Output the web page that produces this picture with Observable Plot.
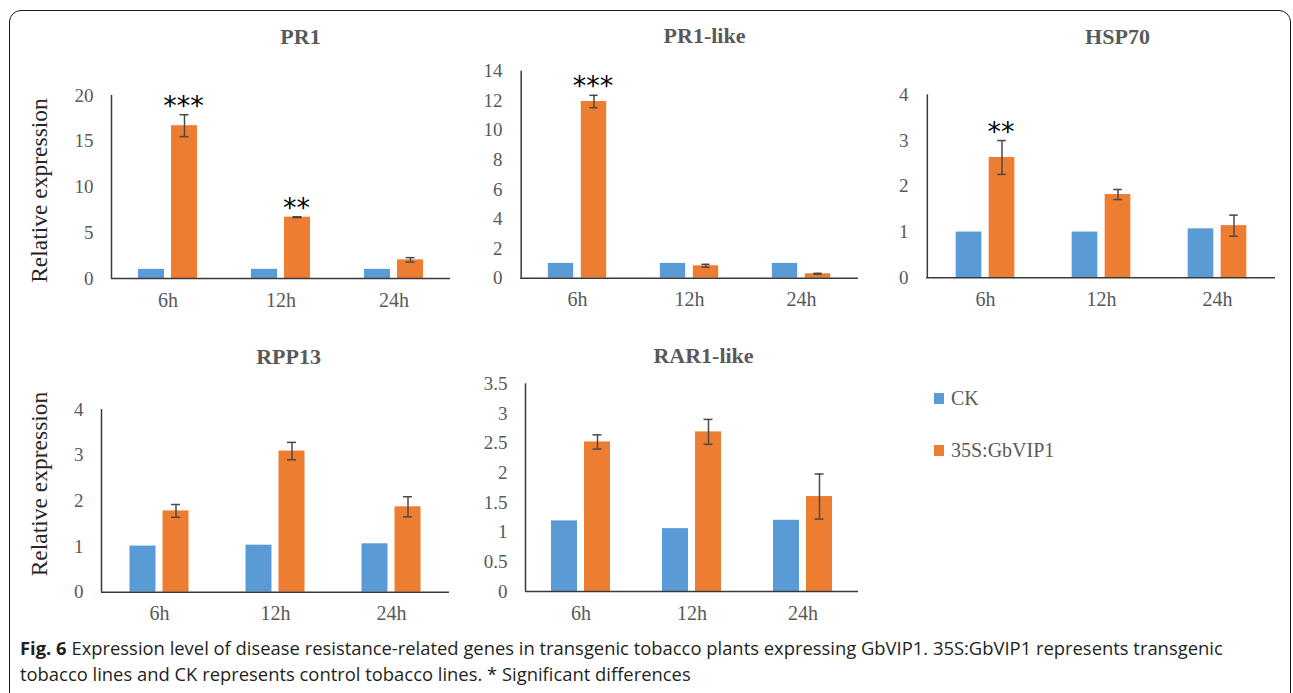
<!DOCTYPE html>
<html><head><meta charset="utf-8">
<script src="https://cdn.jsdelivr.net/npm/d3@7"></script>
<script src="https://cdn.jsdelivr.net/npm/@observablehq/plot@0.6"></script>
<style>
html,body{margin:0;padding:0;background:#fff;}
#page{position:relative;width:1293px;height:693px;overflow:hidden;background:#fff;}
#box{position:absolute;left:9px;top:10px;width:1282px;height:700px;border:1.5px solid #1a1a1a;border-radius:12px;box-sizing:border-box;}
.panel{position:absolute;left:0;top:0;}
.lg{position:absolute;height:28px;display:flex;align-items:center;font-family:'Liberation Serif','Times New Roman',serif;font-size:20px;color:#595959;white-space:nowrap;}
.sw{display:inline-block;width:10px;height:11px;margin-right:7px;}
#caption{position:absolute;left:20px;top:635px;font-family:'Open Sans',sans-serif;font-size:18.4px;line-height:26px;color:#231f20;white-space:nowrap;}
#caption b{font-weight:700;}
</style></head>
<body><div id="page"><div id="box"></div><div id="charts"></div><div id="legend"></div>
<div id="caption"></div></div>
<script>
// ---- data ----
const times = ["6h", "12h", "24h"];
const genes = ["PR1", "PR1-like", "HSP70", "RPP13", "RAR1-like"];
const series = ["CK", "35S:GbVIP1"];
const ckValues = [[1.0, 1.0, 1.0], [1.0, 1.0, 1.0], [1.0, 1.0, 1.07], [1.01, 1.03, 1.06], [1.19, 1.06, 1.2]];
const vipValues = [[16.7, 6.7, 2.04], [11.95, 0.84, 0.3], [2.63, 1.82, 1.14], [1.78, 3.09, 1.87], [2.52, 2.69, 1.6]];
const vipErrors = [[1.2, 0.05, 0.24], [0.42, 0.1, 0.03], [0.37, 0.11, 0.23], [0.14, 0.19, 0.22], [0.12, 0.21, 0.38]];
const significance = [["***", "**", ""], ["***", "", ""], ["**", "", ""], ["", "", ""], ["", "", ""]];
const yTicks = [[0, 5, 10, 15, 20], [0, 2, 4, 6, 8, 10, 12, 14], [0, 1, 2, 3, 4], [0, 1, 2, 3, 4], [0, 0.5, 1, 1.5, 2, 2.5, 3, 3.5]];
const yLabel = "Relative expression";
const captionBold = "Fig. 6";
const captionLines = ["Expression level of disease resistance-related genes in transgenic tobacco plants expressing GbVIP1. 35S:GbVIP1 represents transgenic",
  "tobacco lines and CK represents control tobacco lines. * Significant differences"];

// ---- layout / style ----
const colors = ["#5B9BD5", "#ED7D31"];
const axisColor = "#3a3a3a", errColor = "#4a4a4a";
const layout = [
  {x0: 111, x1: 450, top: 95, base: 278, titleX: 300, titleY: 43, label: true, labelY: 190},
  {x0: 520, x1: 858, top: 70.7, base: 277.7, titleX: 704, titleY: 43},
  {x0: 926, x1: 1275, top: 94.3, base: 277.3, titleX: 1117, titleY: 43},
  {x0: 101, x1: 449, top: 409, base: 591.7, titleX: 288, titleY: 363, label: true, labelY: 483.5},
  {x0: 525, x1: 858, top: 383.3, base: 591, titleX: 703, titleY: 362}
];
const W = 1293, H = 693, barW = 26, off = 16.5, capW = 9;

const charts = document.getElementById("charts");
layout.forEach((L, g) => {
  const rows = times.map((t, i) => ({time: t, ck: ckValues[g][i], vip: vipValues[g][i], err: vipErrors[g][i], sig: significance[g][i]}));
  const bw = (L.x1 - L.x0) / times.length;
  const inset = (bw - barW) / 2;
  const capInset = (bw - capW) / 2;
  const ymax = yTicks[g][yTicks[g].length - 1];
  const marks = [
    Plot.barY(rows, {x: "time", y: "ck", fill: colors[0], insetLeft: inset, insetRight: inset, dx: -off}),
    Plot.barY(rows, {x: "time", y: "vip", fill: colors[1], insetLeft: inset, insetRight: inset, dx: off}),
    Plot.ruleX(rows, {x: "time", y1: d => d.vip - d.err, y2: d => d.vip + d.err, dx: off, stroke: errColor, strokeWidth: 1.5}),
    Plot.tickY(rows, {x: "time", y: d => d.vip + d.err, dx: off, insetLeft: capInset, insetRight: capInset, stroke: errColor, strokeWidth: 1.5}),
    Plot.tickY(rows, {x: "time", y: d => d.vip - d.err, dx: off, insetLeft: capInset, insetRight: capInset, stroke: errColor, strokeWidth: 1.5}),
    Plot.text(rows.filter(d => d.sig), {x: "time", y: d => d.vip + d.err, text: "sig", dx: off - 1, dy: 0, lineAnchor: "bottom", fontFamily: "DejaVu Sans", fontSize: 27, fill: "#000"}),
    Plot.ruleY([0], {stroke: axisColor, strokeWidth: 1.5}),
    Plot.ruleX([times[0]], {y1: 0, y2: ymax, dx: -bw / 2, stroke: axisColor, strokeWidth: 1.5}),
    Plot.axisY({ticks: yTicks[g], tickSize: 0, tickPadding: 18, tickFormat: d => String(d), fontSize: 19}),
    Plot.axisX({tickSize: 0, tickPadding: 14, fontSize: 20}),
    Plot.text([genes[g]], {text: d => d, frameAnchor: "top", textAnchor: "middle", dx: L.titleX - (L.x0 + L.x1) / 2, dy: L.titleY - L.top, lineAnchor: "bottom", fontWeight: "bold", fontSize: 22, fill: "#595959"})
  ];
  if (L.label) {
    marks.push(Plot.text([yLabel], {text: d => d, frameAnchor: "left", textAnchor: "middle", rotate: -90, dx: 46.5 - L.x0, dy: L.labelY - (L.top + L.base) / 2, lineAnchor: "bottom", fontSize: 23.5, fill: "#262626"}));
  }
  const chart = Plot.plot({
    width: W, height: H,
    marginLeft: L.x0, marginRight: W - L.x1, marginTop: L.top, marginBottom: H - L.base,
    x: {domain: times, padding: 0, label: null, axis: null},
    y: {domain: [0, ymax], label: null, axis: null},
    style: "background: transparent; color: #595959; font-family: 'Liberation Serif', 'Times New Roman', serif; font-size: 19px; overflow: visible;",
    marks
  });
  chart.classList.add("panel");
  charts.appendChild(chart);
});

// legend
const legend = document.getElementById("legend");
const legendTops = [384, 436];
series.forEach((s, i) => {
  const d = document.createElement("div");
  d.className = "lg";
  d.style.left = "934px";
  d.style.top = legendTops[i] + "px";
  const sw = document.createElement("span");
  sw.className = "sw";
  sw.style.background = colors[i];
  d.appendChild(sw);
  d.appendChild(document.createTextNode(s));
  legend.appendChild(d);
});

// caption
const cap = document.getElementById("caption");
const b = document.createElement("b");
b.textContent = captionBold;
cap.appendChild(b);
cap.appendChild(document.createTextNode(" " + captionLines[0]));
cap.appendChild(document.createElement("br"));
cap.appendChild(document.createTextNode(captionLines[1]));
</script>
</body></html>
